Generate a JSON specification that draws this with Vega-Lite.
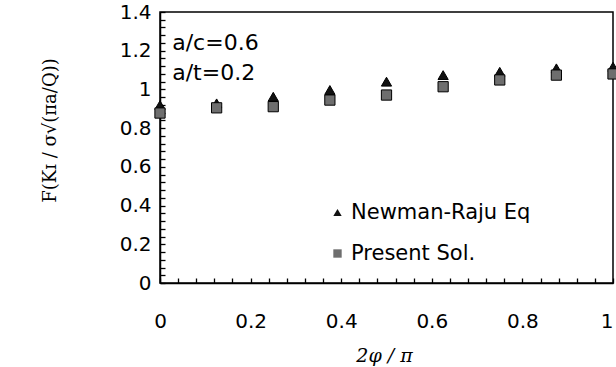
{
  "$schema": "https://vega.github.io/schema/vega-lite/v6.json",
  "width": 453,
  "height": 271,
  "autosize": {"type": "none"},
  "padding": {"left": 160, "top": 12, "right": 3, "bottom": 84},
  "background": "white",
  "config": {
    "view": {"stroke": "#000", "strokeWidth": 1.5},
    "legend": {
      "orient": "none",
      "legendX": 167,
      "legendY": 190,
      "labelFont": "DejaVu Sans",
      "labelFontSize": 21,
      "labelColor": "#000",
      "labelLimit": 400,
      "symbolSize": 70,
      "symbolStrokeColor": "#000",
      "symbolStrokeWidth": 1,
      "rowPadding": 19,
      "labelOffset": 3,
      "padding": 0
    }
  },
  "layer": [
    {
      "data": {
        "values": [
          {"x": 0, "y": 0.919, "series": "Newman-Raju Eq"},
          {"x": 0.125, "y": 0.928, "series": "Newman-Raju Eq"},
          {"x": 0.25, "y": 0.962, "series": "Newman-Raju Eq"},
          {"x": 0.375, "y": 0.997, "series": "Newman-Raju Eq"},
          {"x": 0.5, "y": 1.04, "series": "Newman-Raju Eq"},
          {"x": 0.625, "y": 1.074, "series": "Newman-Raju Eq"},
          {"x": 0.75, "y": 1.091, "series": "Newman-Raju Eq"},
          {"x": 0.875, "y": 1.109, "series": "Newman-Raju Eq"},
          {"x": 1, "y": 1.117, "series": "Newman-Raju Eq"},
          {"x": 0, "y": 0.878, "series": "Present Sol."},
          {"x": 0.125, "y": 0.905, "series": "Present Sol."},
          {"x": 0.25, "y": 0.911, "series": "Present Sol."},
          {"x": 0.375, "y": 0.945, "series": "Present Sol."},
          {"x": 0.5, "y": 0.971, "series": "Present Sol."},
          {"x": 0.625, "y": 1.014, "series": "Present Sol."},
          {"x": 0.75, "y": 1.049, "series": "Present Sol."},
          {"x": 0.875, "y": 1.074, "series": "Present Sol."},
          {"x": 1, "y": 1.08, "series": "Present Sol."}
        ]
      },
      "mark": {"type": "point", "filled": true, "stroke": "#000", "strokeWidth": 1, "opacity": 1, "size": 105},
      "encoding": {
        "x": {
          "field": "x",
          "type": "quantitative",
          "scale": {"domain": [0, 1], "nice": false, "zero": false},
          "axis": {
            "values": [0, 0.04, 0.08, 0.12, 0.16, 0.2, 0.24, 0.28, 0.32, 0.36, 0.4, 0.44, 0.48, 0.52, 0.56, 0.6, 0.64, 0.68, 0.72, 0.76, 0.8, 0.84, 0.88, 0.92, 0.96, 1],
            "tickCount": 200,
            "format": "~g",
            "labelExpr": "abs(datum.value*5-round(datum.value*5))<0.001 ? datum.label : ''",
            "labelAlign": {"expr": "datum.value >= 0.999 ? 'right' : 'center'"},
            "labelOverlap": false,
            "labelFlush": false,
            "tickSize": -5,
            "tickWidth": 1.3,
            "tickColor": "#000",
            "domainColor": "#000",
            "domainWidth": 1.5,
            "grid": false,
            "labelPadding": 33,
            "labelBaseline": "top",
            "labelFont": "DejaVu Sans",
            "labelFontSize": 20,
            "labelColor": "#000",
            "title": "2φ / π",
            "titleFont": "DejaVu Serif",
            "titleFontStyle": "italic",
            "titleFontWeight": "normal",
            "titleFontSize": 19,
            "titleColor": "#000",
            "titleX": 224,
            "titleY": 72,
            "titleBaseline": "middle",
            "titleAlign": "center"
          }
        },
        "y": {
          "field": "y",
          "type": "quantitative",
          "scale": {"domain": [0, 1.4], "nice": false, "zero": false},
          "axis": {
            "values": [0, 0.04, 0.08, 0.12, 0.16, 0.2, 0.24, 0.28, 0.32, 0.36, 0.4, 0.44, 0.48, 0.52, 0.56, 0.6, 0.64, 0.68, 0.72, 0.76, 0.8, 0.84, 0.88, 0.92, 0.96, 1, 1.04, 1.08, 1.12, 1.16, 1.2, 1.24, 1.28, 1.32, 1.36, 1.4],
            "tickCount": 200,
            "format": "~g",
            "labelExpr": "abs(datum.value*5-round(datum.value*5))<0.001 ? datum.label : ''",
            "labelOverlap": false,
            "labelFlush": false,
            "tickSize": -5,
            "tickWidth": 1.3,
            "tickColor": "#000",
            "domainColor": "#000",
            "domainWidth": 1.5,
            "grid": false,
            "labelPadding": 14,
            "labelFont": "DejaVu Sans",
            "labelFontSize": 20,
            "labelColor": "#000",
            "title": "F(Kɪ / σ√(πa/Q))",
            "titleFont": "DejaVu Serif",
            "titleFontWeight": "normal",
            "titleFontSize": 18,
            "titleColor": "#000",
            "titleX": -110,
            "titleY": 118,
            "titleAngle": -90,
            "titleBaseline": "middle",
            "titleAlign": "center"
          }
        },
        "shape": {
          "field": "series",
          "type": "nominal",
          "title": null,
          "scale": {"domain": ["Newman-Raju Eq", "Present Sol."], "range": ["triangle-up", "square"]}
        },
        "fill": {
          "field": "series",
          "type": "nominal",
          "title": null,
          "scale": {"domain": ["Newman-Raju Eq", "Present Sol."], "range": ["#111111", "#6e6e6e"]}
        }
      }
    },
    {
      "data": {
        "values": [
          {"x": 0.027, "y": 1.24, "t": "a/c=0.6"},
          {"x": 0.027, "y": 1.085, "t": "a/t=0.2"}
        ]
      },
      "mark": {"type": "text", "align": "left", "baseline": "middle", "font": "DejaVu Sans", "fontSize": 22, "color": "#000"},
      "encoding": {
        "x": {"field": "x", "type": "quantitative"},
        "y": {"field": "y", "type": "quantitative"},
        "text": {"field": "t"}
      }
    }
  ]
}
